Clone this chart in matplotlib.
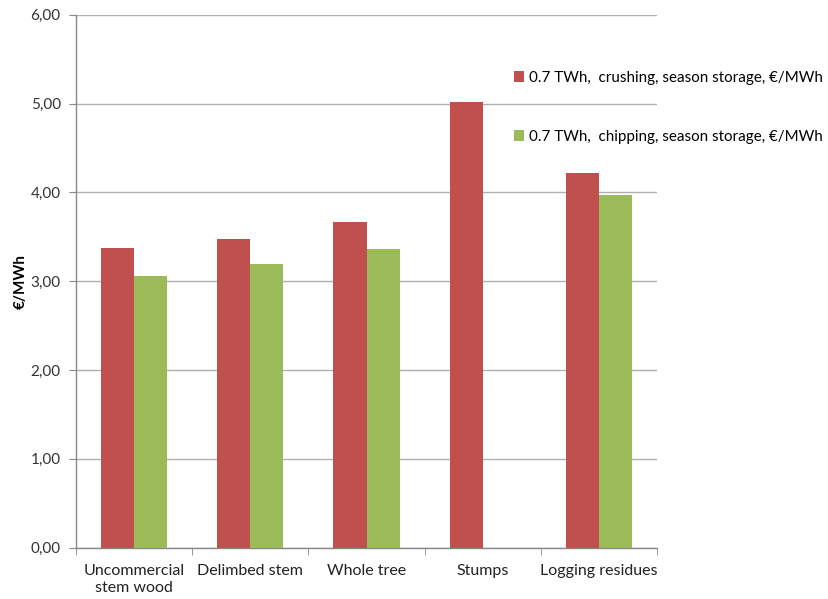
import matplotlib
matplotlib.use("Agg")
import matplotlib.pyplot as plt
import numpy as np

categories = ["Uncommercial\nstem wood", "Delimbed stem", "Whole tree", "Stumps", "Logging residues"]
crushing = [3.37, 3.48, 3.67, 5.02, 4.22]
chipping = [3.055, 3.19, 3.36, np.nan, 3.97]
series_labels = ["0.7 TWh,  crushing, season storage, €/MWh",
                 "0.7 TWh,  chipping, season storage, €/MWh"]
yticks = [0, 1, 2, 3, 4, 5, 6]

plt.rcParams['font.family'] = ['Lato', 'DejaVu Sans']
fig = plt.figure(figsize=(8.29, 5.99), dpi=100)
ax = fig.add_axes([0.0917, 0.0856, 0.7008, 0.8899])

x = np.arange(len(categories))
w = 0.285
b1 = ax.bar(x - w/2, crushing, w, color="#C0504D", label=series_labels[0], zorder=3)
b2 = ax.bar(x + w/2, chipping, w, color="#9BBB59", label=series_labels[1], zorder=3)

ax.set_xlim(-0.5, len(categories) - 0.5)
ax.set_ylim(0, 6)
ax.set_yticks(yticks)
ax.set_yticklabels([f"{v:.2f}".replace(".", ",") for v in yticks], fontsize=11, color="#333333")
ax.yaxis.grid(True, color="#b0b0b0", linewidth=1.0, zorder=0)
ax.set_axisbelow(True)

ax.set_xticks(x)
ax.set_xticklabels(categories, fontsize=11.5, color="#222222")
ax.set_xticks(np.arange(-0.5, len(categories)), minor=True)
ax.tick_params(axis='x', which='major', length=0, pad=12)
ax.tick_params(axis='x', which='minor', length=5, color="#888888", direction='out')
ax.tick_params(axis='y', length=5, color="#888888", pad=6)

for s in ["top", "right"]:
    ax.spines[s].set_visible(False)
for s in ["left", "bottom"]:
    ax.spines[s].set_color("#888888")
    ax.spines[s].set_linewidth(1.0)

ax.set_ylabel("€/MWh", fontsize=11, fontweight="bold", labelpad=2)

fig.legend(handles=[b1, b2], labels=series_labels, loc="upper left",
           bbox_to_anchor=(0.603, 0.905), frameon=False, fontsize=10.9,
           handlelength=0.7, handleheight=0.7, handletextpad=0.35,
           labelspacing=3.0)

fig.savefig("out.png", dpi=100)
